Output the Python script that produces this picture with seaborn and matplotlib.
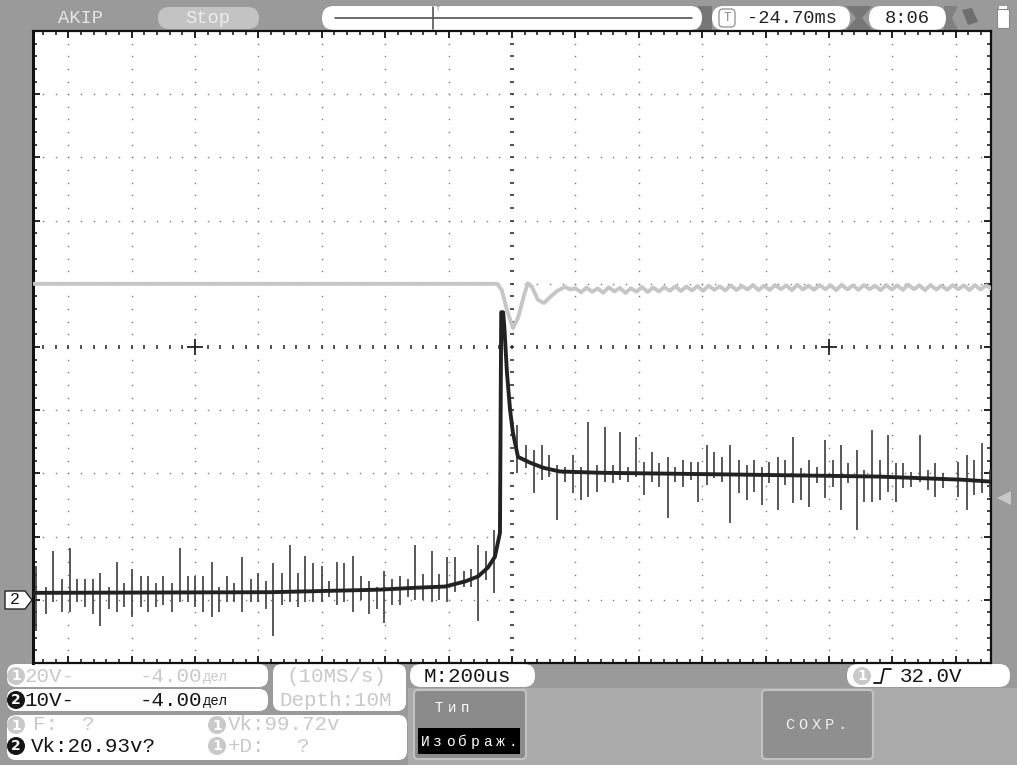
import numpy as np
import pandas as pd
import matplotlib
matplotlib.use("Agg")
import matplotlib.pyplot as plt
import seaborn as sns
from matplotlib.patches import FancyBboxPatch, Circle, Rectangle, Polygon

# ---------------- scope settings ----------------
TIME_DIV = 200          # us per division (M:200us)
CH1_VDIV, CH1_POS = 20, -4.0   # 20V/div, -4.00 div
CH2_VDIV, CH2_POS = 10, -4.0   # 10V/div, -4.00 div

# ---------------- channel 1 (light trace) ----------------
ch1_t = [-1511, -47, -32, -16, 3, 19, 38, 50, 63, 82, 101, 120, 142, 167, 185,
         200, 218, 235, 253, 270, 288, 305, 323, 340, 358,
         375, 393, 410, 428, 445, 463, 480, 498, 515, 533,
         550, 568, 585, 603, 620, 638, 655, 673, 690, 708,
         725, 743, 760, 778, 795, 813, 830, 848, 865, 883,
         900, 918, 935, 953, 970, 988, 1005, 1023, 1040, 1058,
         1075, 1093, 1110, 1128, 1145, 1163, 1180, 1198, 1215, 1233,
         1250, 1268, 1285, 1303, 1320, 1338, 1355, 1373, 1390, 1408,
         1425, 1443, 1460, 1478, 1495, 1511]
ch1_v = [100.0, 100.0, 98.0, 91.7, 86.0, 89.2, 96.4, 100.2, 99.0, 94.9, 93.9, 95.8, 97.7, 99.0, 98.2,
         98.6, 97.3, 98.8, 97.5, 98.5, 97.2, 98.9, 97.6, 98.7, 97.1,
         98.6, 97.5, 99.0, 97.4, 98.8, 97.6, 98.9, 97.8, 99.2, 97.7,
         99.1, 97.9, 99.3, 97.8, 99.4, 98.1, 99.2, 97.9, 99.5, 98.0,
         99.3, 98.2, 99.6, 98.0, 99.4, 98.1, 99.6, 98.3, 99.5, 98.0,
         99.7, 98.2, 99.4, 98.1, 99.6, 98.3, 99.5, 98.0, 99.7, 98.2,
         99.5, 98.1, 99.6, 98.3, 99.4, 98.0, 99.6, 98.2, 99.5, 98.1,
         99.7, 98.3, 99.5, 98.0, 99.6, 98.2, 99.4, 98.1, 99.6, 98.3,
         99.5, 98.0, 99.6, 98.2, 99.5, 98.6]

# ---------------- channel 2 (dark trace) ----------------
ch2_t = [-1511, -763, -420, -306, -211, -148, -107, -76, -54, -38, -34, -28, -24,
         -16, -6, 3, 19, 57, 98, 151, 278, 735, 1155, 1420, 1511]
ch2_v = [1.1, 1.2, 1.6, 1.9, 2.1, 2.9, 3.7, 5.1, 6.8, 10.6, 45.5, 45.5, 43.0,
         36.0, 30.0, 26.4, 22.6, 21.7, 20.9, 20.3, 20.1, 19.8, 19.5, 19.0, 18.7]

# noise spikes on channel 2: time, upper and lower voltage
spike_t = [-1502, -1470, -1448, -1420, -1394, -1372, -1347, -1322, -1300, -1271,
           -1246, -1224, -1199, -1170, -1148, -1123, -1101, -1073, -1047, -1022,
           -1000, -975, -947, -924, -899, -877, -852, -823, -801, -776,
           -754, -726, -700, -675, -653, -628, -599, -577, -552, -530,
           -502, -476, -451, -426, -404, -379, -353, -328, -306, -281,
           -252, -230, -205, -180, -151, -129, -107, -82, -57,
           16, 44, 69, 95, 117, 142, 167, 192, 218, 240,
           268, 293, 319, 341, 366, 391, 416, 442, 464, 492,
           514, 540, 565, 587, 615, 637, 663, 688, 716,
           741, 764, 789, 811, 839, 861, 887, 912, 937, 962,
           988, 1013, 1038, 1060, 1088, 1111, 1136, 1161, 1186, 1212,
           1234, 1259, 1287, 1312, 1335, 1360, 1407, 1436, 1458, 1483, 1508]
spike_hi = [5.4, 2.1, 7.8, 3.3, 8.2, 3.3, 3.3, 3.3, 4.3, 2.1,
            6.0, 2.6, 4.9, 3.7, 3.7, 2.6, 3.7, 2.6, 8.2, 3.7,
            3.7, 3.7, 6.0, 2.1, 3.7, 2.6, 6.8, 3.3, 4.3, 2.9,
            5.9, 4.3, 8.6, 4.3, 7.0, 5.9, 5.4, 2.9, 6.0, 5.9,
            7.0, 3.7, 2.9, 2.1, 4.5, 3.3, 3.7, 3.3, 8.6, 4.1,
            7.8, 4.1, 6.7, 6.7, 4.5, 4.9, 8.6, 7.8, 11.1,
            27.7, 24.5, 23.7, 24.5, 22.9, 21.4, 21.0, 22.9, 21.0, 28.1,
            21.4, 27.4, 21.4, 26.6, 21.0, 25.8, 21.8, 23.4, 21.6, 22.6,
            21.0, 22.1, 21.8, 21.8, 24.5, 23.4, 22.6, 24.5, 22.1,
            21.4, 22.1, 21.0, 21.8, 22.6, 22.1, 25.8, 20.9, 22.1, 21.0,
            25.3, 22.1, 24.5, 21.6, 23.7, 20.6, 26.9, 22.1, 26.1, 21.6,
            21.6, 20.3, 26.1, 20.6, 21.6, 20.1, 21.8, 22.9, 22.1, 24.8, 20.6]
spike_lo = [-5.0, -2.3, -0.4, -1.9, -1.9, -0.3, -1.1, -2.3, -4.2, -1.4,
            -1.9, -1.1, -2.7, -1.1, -1.9, -1.1, -0.8, -1.9, -0.4, -0.3,
            -1.1, -1.9, -2.7, -1.9, -0.3, -0.3, -2.0, -0.4, -0.3, -1.4,
            -5.8, -0.9, -0.4, -1.2, -0.3, -0.4, -0.4, 0.5, -0.9, -0.3,
            -2.0, 0.0, -2.3, -1.5, -3.6, -0.9, -0.9, 0.5, 0.0, 0.0,
            -0.3, 0.0, -0.3, 1.3, 2.1, 2.1, -3.4, 3.2, 1.1,
            20.1, 20.9, 16.9, 19.0, 19.5, 12.7, 18.7, 16.9, 15.8, 16.3,
            17.1, 18.7, 18.5, 19.0, 18.7, 19.5, 16.6, 18.7, 17.9, 13.0,
            18.7, 17.9, 19.0, 15.5, 18.2, 19.3, 18.7, 12.2, 16.9,
            15.8, 17.1, 15.0, 18.5, 14.2, 18.2, 15.3, 15.8, 14.7, 18.5,
            16.1, 17.9, 14.2, 18.5, 11.1, 15.5, 15.5, 15.8, 17.1, 15.5,
            17.7, 17.9, 18.7, 17.4, 16.3, 17.7, 16.3, 14.2, 16.6, 16.9, 16.3]

# ---------------- style ----------------
sns.set_theme(style="white")
plt.rcParams['font.family'] = ['Liberation Mono', 'DejaVu Sans Mono', 'DejaVu Sans']

W, H = 1017, 765
fig = plt.figure(figsize=(W / 100, H / 100), dpi=100)
fig.patch.set_facecolor('#9a9a9a')

# overlay in pixel coordinates for the instrument chrome
ov = fig.add_axes([0, 0, 1, 1], zorder=0)
ov.set_xlim(0, W)
ov.set_ylim(H, 0)
ov.axis('off')

LIGHT = '#c9c9c9'
DARK = '#151515'


def rbox(x, y, w, h, fc='white', ec='none', r=9, lw=1.0, z=1):
    p = FancyBboxPatch((x, y), w, h, boxstyle=f"round,pad=0,rounding_size={r}",
                       fc=fc, ec=ec, lw=lw, zorder=z)
    ov.add_patch(p)
    return p


def num_circle(x, y, n, filled_dark):
    ov.add_patch(Circle((x, y), 9, fc=DARK if filled_dark else LIGHT, ec='none', zorder=3))
    ov.text(x, y + 0.5, str(n), color='white', fontsize=10, ha='center', va='center',
            fontweight='bold', family='DejaVu Sans', zorder=4)


# lower light region
ov.add_patch(Rectangle((408, 688), W - 408, H - 688, fc='#ababab', ec='none', zorder=0.5))

# ---- top bar ----
ov.text(80, 18, 'AKIP', color='#e6e6e6', fontsize=13.5, ha='center', va='center')
rbox(158, 7, 101, 22, fc='#c3c3c3', r=11)
ov.text(208, 18, 'Stop', color='#ececec', fontsize=13.5, ha='center', va='center', zorder=3)
rbox(322, 6, 380, 24, fc='white', r=12)
ov.plot([335, 692], [18, 18], color='#444444', lw=1.1, zorder=3)
ov.plot([433, 433], [7, 29], color='#555555', lw=1.2, zorder=3)
ov.text(438, 9, 'T', color='#888888', fontsize=5, ha='center', va='center', zorder=3)
ov.add_patch(Polygon([(698, 6), (712, 6), (712, 30), (698, 30)], fc='#777777', ec='none', zorder=0.8))
ov.add_patch(Polygon([(846, 6), (872, 6), (862, 18), (872, 30), (846, 30), (856, 18)],
                     fc='#777777', ec='none', zorder=0.8))
ov.add_patch(Polygon([(944, 6), (958, 6), (952, 18), (958, 30), (944, 30)],
                     fc='#808080', ec='none', zorder=0.8))
rbox(712, 6, 138, 24, fc='white', r=12)
rbox(719, 9, 16, 18, fc='white', ec='#999999', r=4, lw=1.0, z=2)
ov.text(727, 18, 'T', color='#888888', fontsize=9, ha='center', va='center', zorder=3)
ov.text(792, 18, '-24.70ms', color='#222222', fontsize=13.5, ha='center', va='center', zorder=3)
rbox(869, 6, 77, 24, fc='white', r=12)
ov.text(907, 18, '8:06', color='#222222', fontsize=13.5, ha='center', va='center', zorder=3)
ov.add_patch(Polygon([(962, 10), (972, 8), (978, 22), (968, 25)], fc='#6e6e6e', ec='none', zorder=2))
ov.add_patch(Rectangle((997, 9), 12, 19, fc='white', ec='#888888', lw=0.8, zorder=2))
ov.add_patch(Rectangle((999, 6), 8, 3, fc='white', ec='none', zorder=2))

# ---- side markers ----
ov.add_patch(Polygon([(5, 591), (25, 591), (32, 600), (25, 609), (5, 609)],
                     fc='white', ec='#222222', lw=1.0, zorder=3))
ov.text(15, 600, '2', color=DARK, fontsize=12, ha='center', va='center', zorder=4)
ov.add_patch(Polygon([(997, 498), (1011, 491), (1011, 505)], fc='#c8c8c8', ec='none', zorder=3))

# ---- bottom panel ----
rbox(7, 664, 261, 23, fc='white', r=9)
rbox(7, 689, 261, 22, fc='white', r=9)
rbox(273, 664, 133, 47, fc='white', r=9)
rbox(7, 715, 400, 45, fc='white', r=9)
rbox(410, 664, 125, 23, fc='white', r=11)
rbox(847, 664, 163, 23, fc='white', r=11)

FS = 15
num_circle(16, 676, 1, False)
ov.text(24, 676, '20V-', color=LIGHT, fontsize=FS, ha='left', va='center', zorder=3)
ov.text(140, 676, '-4.00', color=LIGHT, fontsize=FS, ha='left', va='center', zorder=3)
ov.text(203, 677, 'дел', color=LIGHT, fontsize=10, ha='left', va='center', zorder=3)
num_circle(16, 700, 2, True)
ov.text(24, 700, '10V-', color=DARK, fontsize=FS, ha='left', va='center', zorder=3)
ov.text(140, 700, '-4.00', color=DARK, fontsize=FS, ha='left', va='center', zorder=3)
ov.text(203, 701, 'дел', color=DARK, fontsize=10, ha='left', va='center', zorder=3)
ov.text(336, 676, '(10MS/s)', color=LIGHT, fontsize=FS, ha='center', va='center', zorder=3)
ov.text(336, 700, 'Depth:10M', color=LIGHT, fontsize=FS, ha='center', va='center', zorder=3)
ov.text(467, 676, 'M:200us', color=DARK, fontsize=FS, ha='center', va='center', zorder=3)

num_circle(16, 725, 1, False)
ov.text(33, 725, 'F:', color=LIGHT, fontsize=FS, ha='left', va='center', zorder=3)
ov.text(88, 725, '?', color=LIGHT, fontsize=FS, ha='center', va='center', zorder=3)
num_circle(217, 725, 1, False)
ov.text(228, 725, 'Vk:99.72v', color=LIGHT, fontsize=FS, ha='left', va='center', zorder=3)
num_circle(16, 746, 2, True)
ov.text(31, 746, 'Vk:20.93v?', color=DARK, fontsize=FS, ha='left', va='center', zorder=3)
num_circle(217, 746, 1, False)
ov.text(228, 746, '+D:', color=LIGHT, fontsize=FS, ha='left', va='center', zorder=3)
ov.text(303, 746, '?', color=LIGHT, fontsize=FS, ha='center', va='center', zorder=3)

# trigger box
num_circle(862, 676, 1, False)
ov.plot([874, 881, 884, 891], [683, 683, 669, 669], color=DARK, lw=1.3, zorder=3)
ov.text(931, 676, '32.0V', color=DARK, fontsize=FS, ha='center', va='center', zorder=3)

# menu buttons
rbox(414, 690, 112, 69, fc='#8b8b8b', ec='#c2c2c2', r=4, lw=1.5)
for i, ch in enumerate('Тип'):
    ov.text(439 + i * 13, 708, ch, color='white', fontsize=10, ha='center', va='center', zorder=3)
ov.add_patch(Rectangle((418, 728), 102, 26, fc='black', ec='none', zorder=2))
for i, ch in enumerate('Изображ.'):
    ov.text(425 + i * 12.6, 742, ch, color='white', fontsize=10.5, ha='center', va='center', zorder=3)
rbox(762, 690, 111, 69, fc='#8f8f8f', ec='#c2c2c2', r=4, lw=1.5)
for i, ch in enumerate('СОХР.'):
    ov.text(790 + i * 13, 725, ch, color='#f0f0f0', fontsize=11, ha='center', va='center', zorder=3)

# ---------------- scope screen ----------------
ax = fig.add_axes([33 / W, (H - 663) / H, (991 - 33) / W, (663 - 31) / H], zorder=2)
ax.set_facecolor('white')
XMAX = 7.555 * TIME_DIV
ax.set_xlim(-XMAX, XMAX)
ax.set_ylim(-5, 5)

# graticule dots
sub_t = np.arange(-37, 38) * TIME_DIV / 5
sub_y = np.arange(-24, 25) / 5
grid_col = '#7a7a7a'
for yy in [-4, -3, -2, -1, 1, 2, 3, 4]:
    ax.plot(sub_t, np.full_like(sub_t, yy, dtype=float), ls='none', marker='s',
            ms=1.0, mew=0, color=grid_col, zorder=1)
for k in [-7, -6, -5, -4, -3, -2, -1, 1, 2, 3, 4, 5, 6, 7]:
    ax.plot(np.full_like(sub_y, k * TIME_DIV), sub_y, ls='none', marker='s',
            ms=1.0, mew=0, color=grid_col, zorder=1)
# centre lines with small ticks
ax.plot(sub_t, np.zeros_like(sub_t), ls='none', marker='|', ms=3.2, mew=1.2, color='#333333', zorder=1)
ax.plot(np.zeros_like(sub_y), sub_y, ls='none', marker='_', ms=3.2, mew=1.2, color='#333333', zorder=1)
ax.plot([-5 * TIME_DIV, 5 * TIME_DIV], [0, 0], ls='none', marker='+', ms=11, mew=1.3,
        color='#222222', zorder=1)

# edge ticks
ax.set_xticks(np.arange(-7, 8) * TIME_DIV)
ax.set_xticks(sub_t, minor=True)
ax.set_yticks(np.arange(-4, 5))
ax.set_yticks(sub_y, minor=True)
ax.tick_params(which='both', direction='in', top=True, right=True, bottom=True, left=True,
               labelbottom=False, labelleft=False, color='#111111')
ax.tick_params(which='major', length=5, width=1.3)
ax.tick_params(which='minor', length=3.2, width=1.1)
for s in ax.spines.values():
    s.set_color('#111111')
    s.set_linewidth(1.6)
ax.spines['left'].set_linewidth(2.2)

# traces
df1 = pd.DataFrame({'t': ch1_t, 'div': np.array(ch1_v) / CH1_VDIV + CH1_POS})
sns.lineplot(data=df1, x='t', y='div', ax=ax, color='#c6c6c6', lw=2.8,
             estimator=None, sort=False, legend=False, zorder=3)

sp = pd.DataFrame({'t': spike_t,
                   'hi': np.array(spike_hi) / CH2_VDIV + CH2_POS,
                   'lo': np.array(spike_lo) / CH2_VDIV + CH2_POS})
ax.vlines(sp['t'], sp['lo'], sp['hi'], color='#3c3c3c', lw=1.2, zorder=4)

df2 = pd.DataFrame({'t': ch2_t, 'div': np.array(ch2_v) / CH2_VDIV + CH2_POS})
sns.lineplot(data=df2, x='t', y='div', ax=ax, color='#222222', lw=2.8,
             estimator=None, sort=False, legend=False, zorder=5)

ax.set_xlabel('')
ax.set_ylabel('')
ax.set_xlim(-XMAX, XMAX)
ax.set_ylim(-5, 5)

fig.savefig('out.png', dpi=100, facecolor=fig.get_facecolor())
